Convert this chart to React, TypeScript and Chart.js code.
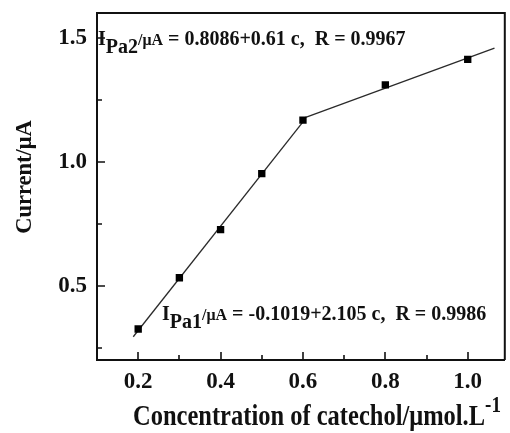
import { useEffect, useRef } from "react";
import { Chart, registerables } from "chart.js";

Chart.register(...registerables);

// Measured peak current vs. catechol concentration
const concentration = [0.2, 0.3, 0.4, 0.5, 0.6, 0.8, 1.0];
const current = [0.325, 0.532, 0.726, 0.952, 1.168, 1.31, 1.413];

// Two linear calibration segments: I = intercept + slope * c
const fit1 = { intercept: -0.1019, slope: 2.105, r: 0.9986 };
const fit2 = { intercept: 0.8086, slope: 0.61, r: 0.9967 };
const fit1Span = [0.188, 0.6];
const fit2Span = [0.6, 1.065];

// Axis ranges and tick values
const xRange = [0.1, 1.09];
const yRange = [0.2, 1.6];
const xMajorTicks = [0.2, 0.4, 0.6, 0.8, 1.0];
const xMinorTicks = [0.3, 0.5, 0.7, 0.9];
const yMajorTicks = [0.5, 1.0, 1.5];
const yMinorTicks = [0.25, 0.75, 1.25];

const SERIF = '"Liberation Serif", "Times New Roman", serif';
const INK = "#111";

type Run = { text: string; size: number; dy?: number };

function drawRuns(ctx: CanvasRenderingContext2D, runs: Run[], x: number, y: number, vscale = 1) {
  ctx.save();
  ctx.translate(x, y);
  ctx.scale(1, vscale);
  ctx.fillStyle = INK;
  ctx.textBaseline = "alphabetic";
  ctx.textAlign = "left";
  let cx = 0;
  for (const r of runs) {
    ctx.font = `bold ${r.size}px ${SERIF}`;
    ctx.fillText(r.text, cx, (r.dy || 0) / vscale);
    cx += ctx.measureText(r.text).width;
  }
  ctx.restore();
}

function fitLabel(sub: string, fit: { intercept: number; slope: number; r: number }): Run[] {
  return [
    { text: "I", size: 20 },
    { text: sub, size: 20, dy: 8 },
    { text: "/μA", size: 16 },
    { text: ` = ${fit.intercept}+${fit.slope} c,  R = ${fit.r}`, size: 20 },
  ];
}

const decorations = {
  id: "decorations",
  afterDraw(chart: Chart) {
    const { ctx, chartArea } = chart;
    const { left, right, top, bottom } = chartArea;
    const xs = chart.scales.x;
    const ys = chart.scales.y;

    ctx.save();
    ctx.strokeStyle = INK;
    ctx.lineCap = "butt";

    // top and right frame lines
    ctx.lineWidth = 2;
    ctx.beginPath();
    ctx.moveTo(left - 1, top);
    ctx.lineTo(right, top);
    ctx.lineTo(right, bottom);
    ctx.stroke();

    // inward tick marks
    ctx.lineWidth = 1.6;
    ctx.beginPath();
    for (const v of xMajorTicks) {
      const p = Math.round(xs.getPixelForValue(v));
      ctx.moveTo(p, bottom);
      ctx.lineTo(p, bottom - 8);
    }
    for (const v of xMinorTicks) {
      const p = Math.round(xs.getPixelForValue(v));
      ctx.moveTo(p, bottom);
      ctx.lineTo(p, bottom - 5);
    }
    for (const v of yMajorTicks) {
      const p = Math.round(ys.getPixelForValue(v));
      ctx.moveTo(left, p);
      ctx.lineTo(left + 8, p);
    }
    for (const v of yMinorTicks) {
      const p = Math.round(ys.getPixelForValue(v));
      ctx.moveTo(left, p);
      ctx.lineTo(left + 5, p);
    }
    ctx.stroke();
    ctx.restore();

    // fit equations
    drawRuns(ctx, fitLabel("Pa2", fit2), left + 1, top + 32);
    drawRuns(ctx, fitLabel("Pa1", fit1), left + 65, top + 307);

    // x-axis title with superscript
    drawRuns(
      ctx,
      [
        { text: "Concentration of catechol/μmol.L", size: 24.5 },
        { text: "-1", size: 19, dy: -13 },
      ],
      left + 36,
      425,
      1.18
    );

    // y-axis title, rotated
    ctx.save();
    ctx.translate(31, 177);
    ctx.rotate(-Math.PI / 2);
    ctx.font = `bold 22.5px ${SERIF}`;
    ctx.fillStyle = INK;
    ctx.textAlign = "center";
    ctx.textBaseline = "alphabetic";
    ctx.fillText("Current/μA", 0, 0);
    ctx.restore();
  },
};

export default function App() {
  const canvasRef = useRef<HTMLCanvasElement | null>(null);

  useEffect(() => {
    const canvas = canvasRef.current;
    if (!canvas) return;

    const chart = new Chart(canvas, {
      type: "scatter",
      data: {
        datasets: [
          {
            label: "Ipa",
            data: concentration.map((c, i) => ({ x: c, y: current[i] })),
            pointStyle: "rect",
            pointRadius: 5.2,
            pointBackgroundColor: "#000",
            pointBorderWidth: 0,
            showLine: false,
            order: 0,
          },
          {
            label: "fit 1",
            data: fit1Span.map((c) => ({ x: c, y: fit1.intercept + fit1.slope * c })),
            showLine: true,
            pointRadius: 0,
            borderColor: "#2a2a2a",
            borderWidth: 1.3,
            order: 1,
          },
          {
            label: "fit 2",
            data: fit2Span.map((c) => ({ x: c, y: fit2.intercept + fit2.slope * c })),
            showLine: true,
            pointRadius: 0,
            borderColor: "#2a2a2a",
            borderWidth: 1.3,
            order: 1,
          },
        ],
      },
      options: {
        responsive: false,
        animation: false,
        devicePixelRatio: 1,
        layout: { padding: { top: 13, right: 2, left: 0, bottom: 0 } },
        plugins: {
          legend: { display: false },
          tooltip: { enabled: false },
          title: { display: false },
        },
        scales: {
          x: {
            type: "linear",
            min: xRange[0],
            max: xRange[1],
            afterBuildTicks: (scale: any) => {
              scale.ticks = xMajorTicks.map((v) => ({ value: v }));
            },
            afterFit: (scale: any) => {
              scale.height = 73;
              scale.paddingLeft = 0;
              scale.paddingRight = 0;
            },
            grid: { display: false, drawTicks: false },
            border: { display: true, color: INK, width: 2 },
            ticks: {
              color: INK,
              padding: 8,
              maxRotation: 0,
              font: { family: SERIF, weight: "bold", size: 23 },
              callback: (v: any) => Number(v).toFixed(1),
            },
          },
          y: {
            type: "linear",
            min: yRange[0],
            max: yRange[1],
            afterBuildTicks: (scale: any) => {
              scale.ticks = yMajorTicks.map((v) => ({ value: v }));
            },
            afterFit: (scale: any) => {
              scale.width = 97;
              scale.paddingTop = 0;
              scale.paddingBottom = 0;
            },
            grid: { display: false, drawTicks: false },
            border: { display: true, color: INK, width: 2 },
            ticks: {
              color: INK,
              padding: 10,
              font: { family: SERIF, weight: "bold", size: 23 },
              callback: (v: any) => Number(v).toFixed(1),
            },
          },
        },
      },
      plugins: [decorations],
    });

    return () => chart.destroy();
  }, []);

  return (
    <div style={{ position: "fixed", left: 0, top: 0, width: 510, height: 433, background: "#fff" }}>
      <canvas ref={canvasRef} width={510} height={433} style={{ display: "block" }} />
    </div>
  );
}
